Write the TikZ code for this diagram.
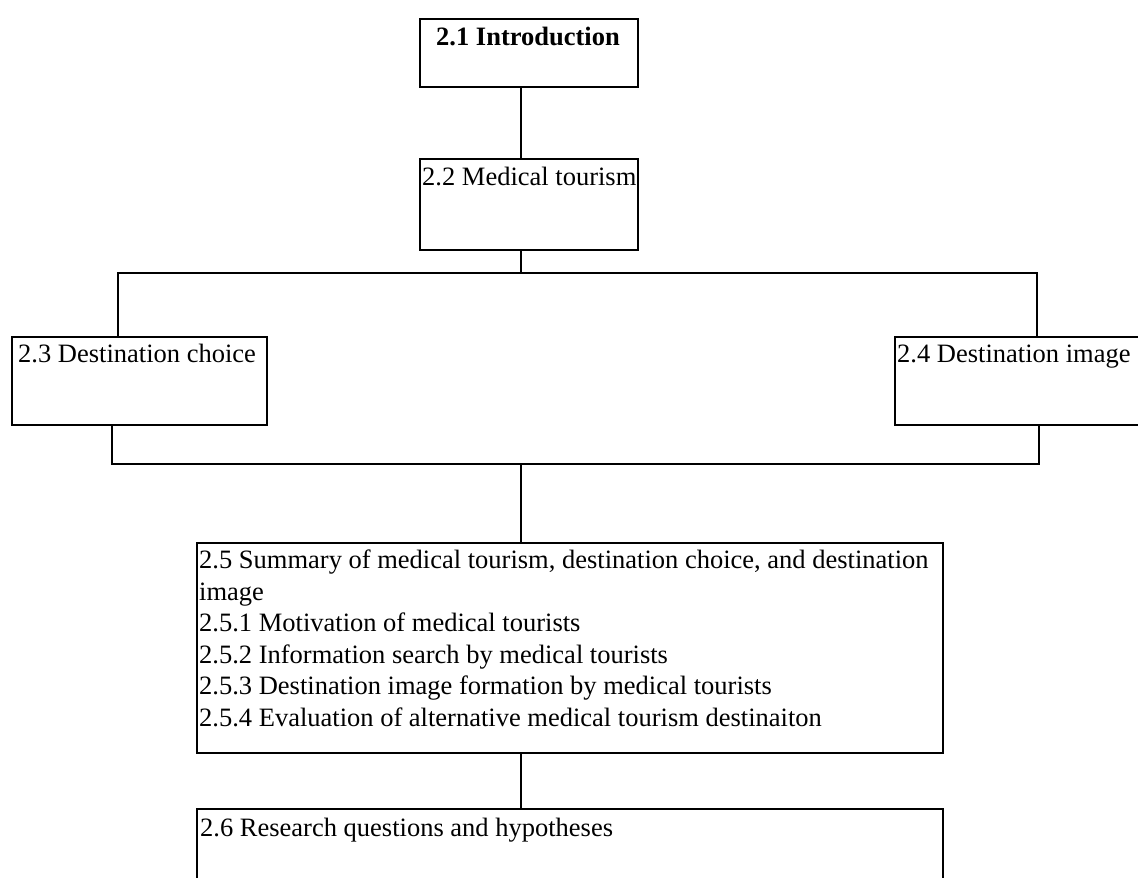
\documentclass[tikz,border=0pt]{standalone}
\usepackage{fontspec}
\setmainfont{Liberation Serif}
\usetikzlibrary{calc}
\begin{document}
\begin{tikzpicture}[x=1pt,y=1pt,
  box/.style={draw=black, line width=1.8pt, inner sep=0pt, anchor=north west},
  link/.style={draw=black, line width=1.8pt},
  boxtext/.style={inner sep=0pt, anchor=base west, font=\fontsize{26.5}{31.5}\selectfont}]
\useasboundingbox (0,0) rectangle (1138,-878);
\clip (0,0) rectangle (1138,-878);

% section boxes
\node[box, minimum width=218pt, minimum height=68pt]  (b21) at (419,-18)  {};
\node[box, minimum width=218pt, minimum height=91pt]  (b22) at (419,-158) {};
\node[box, minimum width=255pt, minimum height=88pt]  (b23) at (11,-336)  {};
\node[box, minimum width=255pt, minimum height=88pt]  (b24) at (894,-336) {};
\node[box, minimum width=746pt, minimum height=210pt] (b25) at (196,-542) {};
\node[box, minimum width=746pt, minimum height=110pt] (b26) at (196,-808) {};

% box texts
\node[boxtext, anchor=base, font=\fontsize{26.5}{31.5}\selectfont\bfseries] (t21) at (528,-45) {2.1 Introduction};
\node[boxtext] (t22) at (422,-185) {2.2 Medical tourism};
\node[boxtext] (t23) at (18,-362)  {2.3 Destination choice};
\node[boxtext] (t24) at (897,-362) {2.4 Destination image};
\node[boxtext] (t25) at (199,-568.5) {\parbox[t]{780pt}{\raggedright
  2.5 Summary of medical tourism, destination choice, and destination\\
  image\\
  2.5.1 Motivation of medical tourists\\
  2.5.2 Information search by medical tourists\\
  2.5.3 Destination image formation by medical tourists\\
  2.5.4 Evaluation of alternative medical tourism destinaiton}};
\node[boxtext] (t26) at (200,-836) {2.6 Research questions and hypotheses};

% trunk and bus positions
\coordinate (trunk) at (521,0);
\coordinate (la) at (118,-273);
\coordinate (ra) at (1037,-273);
\coordinate (lb) at (112,-464);
\coordinate (rb) at (1039,-464);

% connectors
\draw[link] (b21.south -| trunk) -- (b22.north -| trunk);
\draw[link] (b22.south -| trunk) -- (trunk |- la);
\draw[link] (b23.north -| la) -- (la) -- (ra) -- (b24.north -| ra);
\draw[link] (b23.south -| lb) -- (lb) -- (rb) -- (b24.south -| rb);
\draw[link] (trunk |- lb) -- (b25.north -| trunk);
\draw[link] (b25.south -| trunk) -- (b26.north -| trunk);
\end{tikzpicture}
\end{document}
